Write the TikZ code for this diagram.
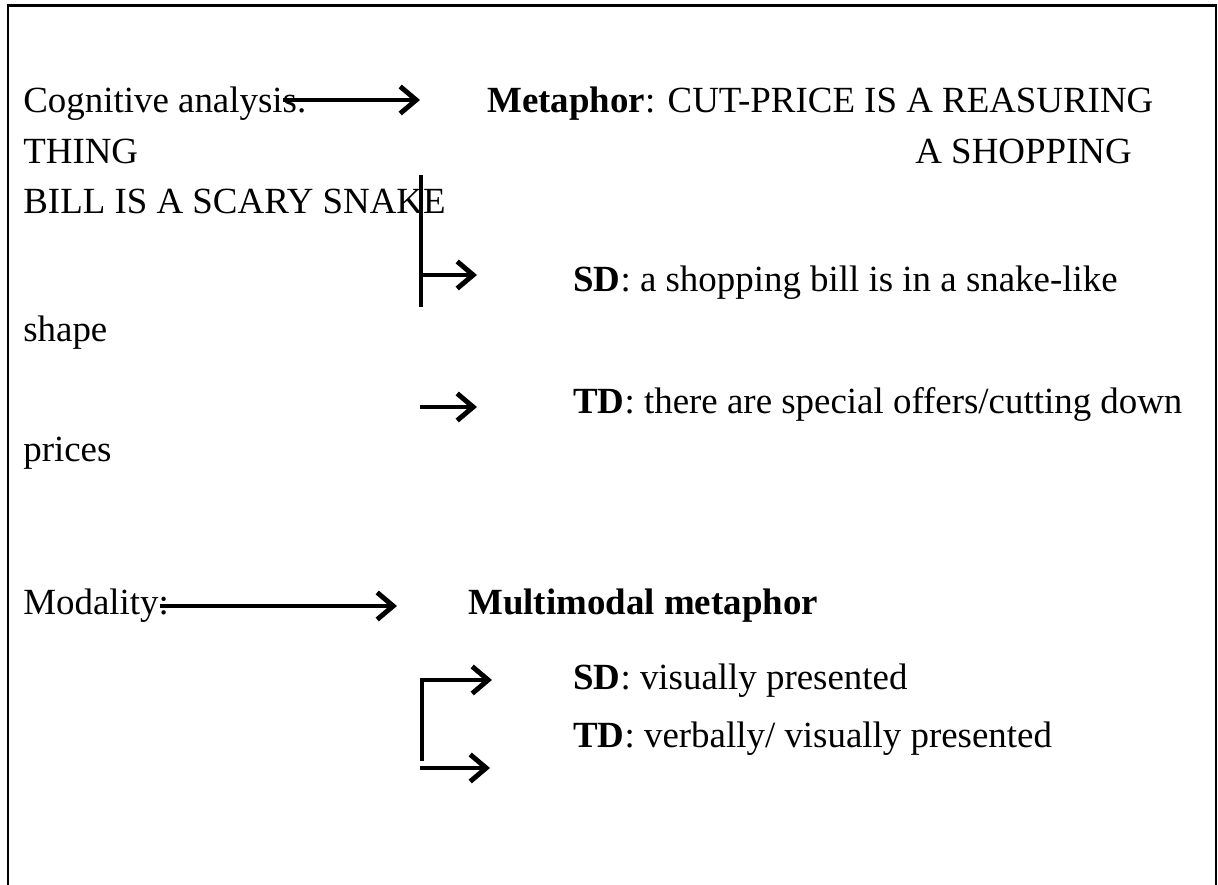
\documentclass[tikz,border=0pt]{standalone}
\usepackage{fontspec}
\setmainfont{Liberation Serif}
\usetikzlibrary{arrows.meta}

\begin{document}
\begin{tikzpicture}[txt/.style={anchor=base west,inner sep=0pt,font=\fontsize{21}{25}\selectfont},
    arr/.style={line width=2.8pt,-{Straight Barb[length=3.2mm,width=5.4mm]}},
    bar/.style={line width=2.8pt}]
    \useasboundingbox (0,0) rectangle (24.36,17.7);
    \draw[line width=1.7pt] (0.16,0)--(0.16,17.58);
    \draw[line width=1.7pt] (0.13,17.58)--(24.33,17.58);
    \draw[line width=1.1pt] (24.32,17.58)--(24.32,0);
    \node[txt] (ca) at (0.46,15.44) {Cognitive analysis.};
    \node[txt] (cb) at (0.46,14.42) {THING};
    \node[txt] (cc) at (0.46,13.42) {BILL IS A SCARY SNAKE};
    \node[txt] (ma) at (9.74,15.44) {\textbf{Metaphor}: CUT-PRICE IS A REASURING};
    \node[txt] (mb) at (18.30,14.42) {A SHOPPING};
    \node[txt] (sa) at (11.46,11.86) {\textbf{SD}: a shopping bill is in a snake-like};
    \node[txt] (sb) at (0.46,10.86) {shape};
    \node[txt] (ta) at (11.46,9.42) {\textbf{TD}: there are special offers/cutting down};
    \node[txt] (tb) at (0.46,8.46) {prices};
    \node[txt] (da) at (0.46,5.40) {Modality:};
    \node[txt] (db) at (9.36,5.40) {\textbf{Multimodal metaphor}};
    \node[txt] (dc) at (11.46,3.90) {\textbf{SD}: visually presented};
    \node[txt] (dd) at (11.46,2.74) {\textbf{TD}: verbally/ visually presented};
    \coordinate (pa) at (5.66,15.70);
    \coordinate (pb) at (8.40,15.70);
    \coordinate (qa) at (8.42,14.20);
    \coordinate (qb) at (8.42,11.56);
    \coordinate (qc) at (9.54,12.20);
    \coordinate (qd) at (8.40,9.56);
    \coordinate (qe) at (9.54,9.56);
    \coordinate (ra) at (3.20,5.58);
    \coordinate (rb) at (7.94,5.58);
    \coordinate (sa1) at (8.44,2.48);
    \coordinate (sa2) at (9.84,4.10);
    \coordinate (sa3) at (8.40,2.34);
    \coordinate (sa4) at (9.80,2.34);
    \draw[arr] (pa)--(pb);
    \draw[bar] (qa)--(qb);
    \draw[arr] (qa|-qc)--(qc);
    \draw[arr] (qd)--(qe);
    \draw[arr] (ra)--(rb);
    \draw[arr] (sa1)|-(sa2);
    \draw[arr] (sa3)--(sa4);
\end{tikzpicture}
\end{document}
